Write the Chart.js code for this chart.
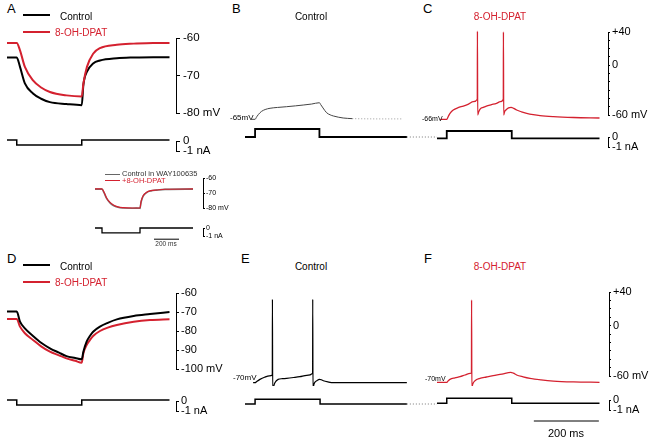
<!DOCTYPE html>
<html>
<head>
<meta charset="utf-8">
<script src="https://cdn.jsdelivr.net/npm/chart.js@4.4.1/dist/chart.umd.min.js"></script>
<style>
body { margin: 0; background: #fff; }
#fig { position: relative; width: 657px; height: 444px; overflow: hidden; font-family: Arial, "Liberation Sans", Helvetica, sans-serif; }
#fig canvas { position: absolute; }
.t { position: absolute; white-space: nowrap; line-height: 1; color: #000; }
.key { position: absolute; height: 0; }
</style>
</head>
<body>
<div id="fig"></div>
<script>
const RED = '#d4212f';
const FONT = 'Arial, "Liberation Sans", Helvetica, sans-serif';
const MS = 0.325; // px per ms in the main panels

// A: hyperpolarizing step, control vs 8-OH-DPAT (mV)
const aTime = [0, 30, 40, 55, 80, 105, 132, 183, 230, 235, 246, 265, 286, 338, 390, 450, 500];
const aControl = [-65.2, -65.2, -67.7, -72.1, -74.8, -76.2, -77.1, -77.6, -77.9, -72.5, -69.0, -66.8, -66.0, -65.4, -65.2, -65.1, -65.1];
const aDpat = [-61.3, -61.3, -63.3, -67.7, -71.3, -73.2, -74.4, -75.3, -75.6, -72.2, -67.7, -64.2, -62.7, -61.8, -61.5, -61.3, -61.3];
const aStepTime = [-6, 30, 30, 230, 230, 500];
const aStep = [0.1, 0.1, -0.4, -0.4, 0.1, 0.1];

// inset: control in WAY100635 vs +8-OH-DPAT
const insetTime = [0, 56, 72, 94, 120, 147, 184, 227, 300, 360, 368, 384, 413, 448, 493, 560, 784];
const insetControl = [-67.4, -67.4, -69.8, -73.8, -76.6, -78.3, -79.5, -80.0, -80.2, -80.2, -76.3, -72.3, -69.7, -68.6, -68.1, -67.6, -67.4];
const insetDpat = [-67.3, -67.3, -69.5, -73.5, -76.3, -78.0, -79.3, -79.8, -80.0, -80.0, -76.0, -72.0, -69.5, -68.4, -68.0, -67.5, -67.3];
const insetStepTime = [0, 56, 56, 360, 360, 784];
const insetStep = [0, 0, -0.6, -0.6, 0, 0];
const insetBarTime = [472, 672];
const insetBar = [-1.4, -1.4];

// B: control, depolarizing step
const bTime = [20, 31, 36, 41, 46, 51, 62, 77, 100, 128, 155, 179, 205, 229, 233, 240, 251, 262, 272, 287, 302, 330];
const bControl = [-65.2, -65.2, -62.2, -59.5, -57.3, -55.6, -53.4, -51.9, -50.9, -50.0, -49.0, -48.0, -46.8, -45.2, -47.5, -51.5, -57.2, -59.8, -61.2, -62.6, -63.6, -64.4];
const bTailTime = [330, 370, 420, 483];
const bTail = [-64.4, -64.6, -64.7, -64.7];
const bStepTime = [0, 31, 31, 229, 229, 498];
const bStep = [0, 0, 0.8, 0.8, 0, 0];
const bGapTime = [498, 591];
const bGap = [0, 0];

// C: 8-OH-DPAT, depolarizing step
const cTime = [10, 30, 35, 40, 50, 65, 81, 97, 112, 124, 124.4, 125.2, 128, 132, 142, 152, 168, 183, 195, 204, 204.4, 205.2, 208, 212, 220, 228, 236, 245, 260, 276, 296, 317, 358, 420, 500];
const cDpat = [-65.2, -65.2, -61.5, -58.0, -54.0, -51.2, -49.2, -46.8, -44.0, -41.1, 41.0, -60.0, -56.5, -53.1, -50.8, -49.2, -47.5, -45.9, -44.0, -41.1, 40.0, -60.0, -56.0, -54.0, -51.5, -50.7, -52.0, -54.0, -56.2, -58.0, -59.6, -60.8, -62.0, -63.0, -63.6];
const cStepTime = [0, 30, 30, 230, 230, 500];
const cStep = [-0.13, -0.13, 0.6, 0.6, -0.13, -0.13];

// D: hyperpolarizing step at -70 mV
const dTime = [0, 30, 40, 55, 80, 105, 132, 160, 183, 210, 230, 235, 245, 255, 265, 286, 310, 338, 390, 440, 500];
const dControl = [-69.8, -69.8, -75.1, -78.6, -82.6, -86.2, -89.1, -91.4, -93.2, -94.2, -94.9, -90.9, -85.6, -82.6, -80.4, -77.7, -75.7, -73.9, -72.1, -71.1, -70.0];
const dDpat = [-73.7, -73.7, -77.7, -81.2, -84.7, -88.1, -90.9, -92.8, -94.4, -95.7, -96.7, -91.7, -87.4, -84.8, -82.6, -80.0, -78.2, -76.8, -75.1, -74.2, -73.8];
const dStepTime = [-6, 30, 30, 230, 230, 500];
const dStep = [0.1, 0.1, -0.4, -0.4, 0.1, 0.1];

// E: control at -70 mV
const eTime = [25, 31, 36, 46, 60, 75, 84, 84.4, 85.2, 88, 92, 102, 115, 128, 150, 169, 190, 208, 208.4, 209.2, 212, 216, 221, 229, 235, 241, 255, 272, 330, 400, 498];
const eControl = [-68, -68, -66.5, -64, -61.5, -59.8, -58.8, 31.3, -76.7, -72.5, -68.0, -64.0, -63.2, -62.8, -61.8, -60.8, -59.2, -56.8, 31.3, -75.9, -70.0, -67.0, -65.6, -64.0, -64.5, -65.6, -67.0, -68.0, -68.0, -68.0, -68.0];
const eStepTime = [0, 31, 31, 231, 231, 498];
const eStep = [-0.4, -0.4, 0.07, 0.07, -0.4, -0.4];
const eGapTime = [498, 591];
const eGap = [-0.4, -0.4];

// F: 8-OH-DPAT at -70 mV
const fTime = [0, 30, 35, 40, 55, 71, 86, 102, 106, 106.4, 107.2, 110, 117, 132, 152, 173, 200, 227, 235, 245, 265, 286, 320, 358, 420, 500];
const fDpat = [-67.5, -67.5, -65.5, -64.0, -62.2, -60.8, -58.8, -56.8, -56.3, 30.5, -73.5, -69.5, -65.6, -62.8, -61.2, -59.6, -57.8, -55.6, -56.6, -58.8, -61.0, -62.8, -64.6, -66.0, -67.0, -67.5];
const fStepTime = [0, 30, 30, 230, 230, 500];
const fStep = [-0.33, -0.33, 0.17, 0.17, -0.33, -0.33];
const fBarTime = [298, 498];
const fBar = [-2.1, -2.1];

const fig = document.getElementById('fig');

function pts(xs, ys) {
  return xs.map((x, i) => ({ x: x, y: ys[i] }));
}

function trace(xs, ys, color, width, dash) {
  return {
    data: pts(xs, ys), borderColor: color, borderWidth: width, borderDash: dash || [],
    pointRadius: 0, clip: false, fill: false, cubicInterpolationMode: 'monotone'
  };
}

function steps(xs, ys, color, width, dash) {
  return {
    data: pts(xs, ys), borderColor: color, borderWidth: width, borderDash: dash || [],
    pointRadius: 0, clip: false, fill: false, tension: 0
  };
}

function mvLabels(v) {
  v = Math.round(v);
  if (v === 40) return '+40';
  if (v === 0) return '0';
  if (v === -60) return '-60 mV';
  return '';
}

function naLabels(v) {
  return Math.round(v) === 0 ? '0' : '-1 nA';
}

function plot(box, xr, yr, datasets, axis) {
  const pad = 10;
  const padBottom = box.padBottom || pad;
  const axisW = axis ? axis.width : 0;
  const w = box.right - box.left + axisW;
  const h = box.bottom - box.top + pad + padBottom;
  const c = document.createElement('canvas');
  c.width = w; c.height = h;
  c.style.left = box.left + 'px';
  c.style.top = (box.top - pad) + 'px';
  c.style.width = w + 'px';
  c.style.height = h + 'px';
  fig.appendChild(c);

  const y = axis ? {
    position: 'right', min: yr[0], max: yr[1],
    afterFit: s => { s.width = axisW; },
    border: { display: true, color: '#000', width: 1 },
    grid: { drawOnChartArea: false, drawTicks: true, tickLength: axis.tick, color: '#000', lineWidth: 1 },
    ticks: {
      stepSize: axis.step, autoSkip: false, padding: axis.gap, color: '#000',
      font: { family: FONT, size: axis.size }, callback: axis.label
    }
  } : { display: false, min: yr[0], max: yr[1] };

  return new Chart(c, {
    type: 'line',
    data: { datasets: datasets },
    options: {
      responsive: false, animation: false, events: [],
      layout: { padding: { top: pad, bottom: padBottom, left: 0, right: 0 } },
      plugins: { legend: { display: false }, tooltip: { enabled: false } },
      scales: {
        x: { type: 'linear', display: false, min: xr[0], max: xr[1] },
        y: y
      }
    }
  });
}

function text(str, x, cy, size, color, center) {
  const d = document.createElement('div');
  d.className = 't';
  d.textContent = str;
  d.style.fontSize = size + 'px';
  d.style.left = x + 'px';
  d.style.top = (cy - size / 2) + 'px';
  if (color) d.style.color = color;
  if (center) d.style.transform = 'translateX(-50%)';
  fig.appendChild(d);
}

function key(x1, x2, y, color, w) {
  const d = document.createElement('div');
  d.className = 'key';
  d.style.left = x1 + 'px';
  d.style.width = (x2 - x1) + 'px';
  d.style.top = (y - w / 2) + 'px';
  d.style.borderTop = w + 'px solid ' + color;
  fig.appendChild(d);
}

// ---- panel A ----
const aRange = [0, (176 - 7) / MS];
plot({ left: 7, right: 176, top: 38, bottom: 113 }, aRange, [-80, -60], [
  trace(aTime, aDpat, RED, 2),
  trace(aTime, aControl, '#000', 2)
], { width: 48, tick: 4, gap: 3, size: 11.5, step: 10, label: v => Math.round(v) === -80 ? '-80 mV' : String(Math.round(v)) });
plot({ left: 7, right: 176, top: 141, bottom: 151 }, aRange, [-1, 0], [
  steps(aStepTime, aStep, '#000', 1.5)
], { width: 48, tick: 4, gap: 3, size: 11.5, step: 1, label: naLabels });

// ---- inset ----
const insetRange = [0, (203 - 95) * 8];
plot({ left: 95, right: 203, top: 178, bottom: 208 }, insetRange, [-80, -60], [
  trace(insetTime, insetDpat, RED, 1.2),
  trace(insetTime, insetControl, '#777', 1.6)
], { width: 30, tick: 2, gap: 1, size: 7, step: 10, label: v => Math.round(v) === -80 ? '-80 mV' : String(Math.round(v)) });
plot({ left: 95, right: 203, top: 228, bottom: 236 }, insetRange, [-1, 0], [
  steps(insetStepTime, insetStep, '#000', 1.3),
  steps(insetBarTime, insetBar, '#000', 1)
], { width: 30, tick: 2, gap: 1, size: 7, step: 1, label: naLabels });

// ---- panel B ----
const bRange = [0, (437 - 245) / MS];
plot({ left: 245, right: 437, top: 32, bottom: 115 }, bRange, [-60, 40], [
  trace(bTime, bControl, '#444', 1),
  trace(bTailTime, bTail, '#999', 1, [1, 2])
]);
plot({ left: 245, right: 437, top: 137, bottom: 147 }, bRange, [-1, 0], [
  steps(bStepTime, bStep, '#000', 1.8),
  steps(bGapTime, bGap, '#777', 1, [1, 2])
]);

// ---- panel C ----
const cRange = [0, (608 - 437) / MS];
plot({ left: 437, right: 608, top: 32, bottom: 115 }, cRange, [-60, 40], [
  trace(cTime, cDpat, RED, 1.3)
], { width: 45, tick: 2, gap: 2, size: 11, step: 10, label: mvLabels });
plot({ left: 437, right: 608, top: 137, bottom: 147 }, cRange, [-1, 0], [
  steps(cStepTime, cStep, '#000', 1.8)
], { width: 45, tick: 2, gap: 2, size: 11, step: 1, label: naLabels });

// ---- panel D ----
plot({ left: 7, right: 176, top: 293, bottom: 369 }, aRange, [-100, -60], [
  trace(dTime, dControl, '#000', 2),
  trace(dTime, dDpat, RED, 2)
], { width: 52, tick: 3, gap: 2, size: 11, step: 10, label: v => Math.round(v) === -100 ? '-100 mV' : String(Math.round(v)) });
plot({ left: 7, right: 176, top: 401, bottom: 411 }, aRange, [-1, 0], [
  steps(dStepTime, dStep, '#000', 1.5)
], { width: 52, tick: 3, gap: 2, size: 11, step: 1, label: naLabels });

// ---- panel E ----
plot({ left: 245, right: 437, top: 292, bottom: 376 }, bRange, [-60, 40], [
  trace(eTime, eControl, '#000', 1.2)
]);
plot({ left: 245, right: 437, top: 400, bottom: 410 }, bRange, [-1, 0], [
  steps(eStepTime, eStep, '#000', 1.5),
  steps(eGapTime, eGap, '#777', 1, [1, 2])
]);

// ---- panel F ----
const fRange = [0, (609 - 437) / MS];
plot({ left: 437, right: 609, top: 292, bottom: 376 }, fRange, [-60, 40], [
  trace(fTime, fDpat, RED, 1.3)
], { width: 45, tick: 2, gap: 2, size: 11, step: 10, label: mvLabels });
plot({ left: 437, right: 609, top: 400, bottom: 410, padBottom: 20 }, fRange, [-1, 0], [
  steps(fStepTime, fStep, '#000', 1.5),
  steps(fBarTime, fBar, '#000', 1)
], { width: 45, tick: 2, gap: 2, size: 11, step: 1, label: naLabels });

// ---- text ----
text('A', 7, 8, 13);
text('B', 232, 8, 13);
text('C', 423, 8, 13);
text('D', 7, 258, 13);
text('E', 241, 258, 13);
text('F', 424, 258, 13);

key(23, 50, 15, '#000', 2);
key(23, 50, 32, RED, 2);
text('Control', 60, 17.3, 10);
text('8-OH-DPAT', 55, 33.3, 10, RED);

key(23, 50, 265, '#000', 2);
key(23, 50, 282, RED, 2);
text('Control', 60, 267.3, 10);
text('8-OH-DPAT', 55, 283.3, 10, RED);

key(105, 120, 175, '#666', 1.3);
key(105, 120, 181, RED, 1.3);
text('Control in WAY100635', 122, 174, 7.5, '#333');
text('+8-OH-DPAT', 122, 180.5, 7.5, RED);
text('200 ms', 166, 244, 6.5, '#333', true);

text('Control', 311, 17, 10, null, true);
text('8-OH-DPAT', 500, 17, 10, RED, true);
text('Control', 311, 267, 10, null, true);
text('8-OH-DPAT', 500, 267, 10, RED, true);

text('-65mV', 230, 118, 8);
text('-66mV', 422, 118, 7);
text('-70mV', 233, 378, 8);
text('-70mV', 425, 378, 7);

text('200 ms', 566, 433, 11, null, true);
</script>
</body>
</html>
